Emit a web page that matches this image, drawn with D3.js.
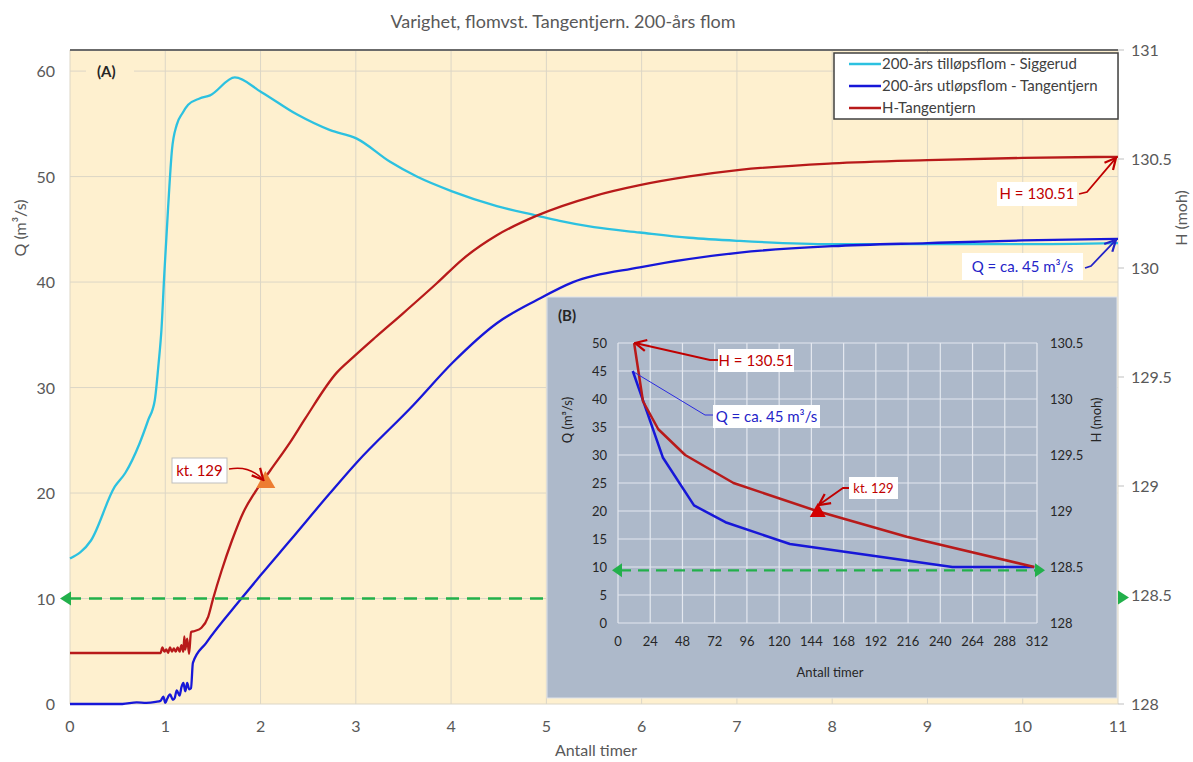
<!DOCTYPE html>
<html>
<head>
<meta charset="utf-8">
<script src="https://cdn.jsdelivr.net/npm/d3@7"></script>
<style>
  body { margin: 0; background: #ffffff; }
  text { font-family: Lato, "Noto Sans", "Liberation Sans", sans-serif; }
</style>
</head>
<body>
<svg id="chart" width="1193" height="762"></svg>
<script>
// ---- Main chart (A): time in hours ----
const inflowT = [0, 0.22, 0.47, 0.58, 0.73, 0.82, 0.89, 0.93, 0.96, 0.99, 1.03, 1.07, 1.12, 1.18, 1.24, 1.36, 1.47, 1.73, 2.01, 2.38, 2.73, 3.01, 3.36, 3.64, 4.01, 4.48, 4.9, 5.14, 5.5, 5.98, 6.5, 7.03, 8.0, 9.0, 10.0, 11.0];
const inflowQ = [13.8, 15.5, 20.6, 21.9, 24.7, 26.9, 28.8, 32.3, 35.5, 40.8, 47.1, 52.5, 54.9, 56.0, 56.8, 57.4, 57.7, 59.4, 58.0, 55.9, 54.4, 53.6, 51.4, 50.0, 48.6, 47.2, 46.3, 45.8, 45.2, 44.7, 44.2, 43.9, 43.6, 43.6, 43.6, 43.7];

const outflowT = [0, 0.55, 0.7, 0.8, 0.9, 0.95, 0.98, 1.0, 1.02, 1.05, 1.08, 1.1, 1.12, 1.15, 1.17, 1.19, 1.21, 1.23, 1.25, 1.27, 1.29, 1.43, 1.79, 2.0, 2.31, 2.73, 3.01, 3.6, 4.02, 4.48, 4.9, 5.28, 5.98, 7.03, 8.0, 9.0, 10.0, 11.0];
const outflowQ = [0, 0, 0.15, 0.1, 0.2, 0.3, 0.7, 0.1, 0.5, 0.9, 0.4, 0.6, 1.3, 0.8, 1.6, 2.0, 1.2, 2.0, 1.4, 1.5, 3.9, 5.8, 9.9, 12.2, 15.5, 20.0, 22.9, 28.3, 32.4, 36.1, 38.3, 40.0, 41.4, 42.8, 43.4, 43.7, 43.95, 44.1];

const levelT = [0, 0.5, 0.95, 0.97, 0.99, 1.01, 1.03, 1.05, 1.07, 1.09, 1.11, 1.13, 1.15, 1.17, 1.19, 1.2, 1.21, 1.23, 1.25, 1.27, 1.31, 1.38, 1.45, 1.5, 1.59, 1.7, 1.82, 1.94, 2.1, 2.31, 2.47, 2.8, 2.97, 3.2, 3.49, 3.85, 4.12, 4.48, 4.9, 5.5, 5.98, 6.5, 7.03, 8.0, 9.0, 10.0, 11.0];
const levelH = [128.234, 128.234, 128.234, 128.26, 128.24, 128.25, 128.235, 128.26, 128.24, 128.255, 128.24, 128.26, 128.24, 128.27, 128.24, 128.31, 128.25, 128.3, 128.23, 128.33, 128.335, 128.35, 128.40, 128.48, 128.61, 128.75, 128.88, 128.97, 129.07, 129.2, 129.31, 129.52, 129.59, 129.68, 129.79, 129.93, 130.04, 130.15, 130.24, 130.33, 130.38, 130.42, 130.45, 130.48, 130.495, 130.505, 130.51];

const xTicksA = [0, 1, 2, 3, 4, 5, 6, 7, 8, 9, 10, 11];
const qTicksA = [0, 10, 20, 30, 40, 50, 60];
const hTicksA = [128, 128.5, 129, 129.5, 130, 130.5, 131];
const thresholdQ = 10;          // kt. 128.5
const kt129A = { t: 2.05, h: 129.0 };
const endLevel = 130.51;
const endOutflow = 44.1;

// ---- Inset chart (B): hours ----
const insetOutHrs = [11, 33.5, 56.6, 80, 128, 249, 310];
const insetOutQ   = [45, 29.5, 21, 18, 14.1, 10, 10];
const insetLvlHrs = [12, 18.6, 30, 50, 86, 148, 215, 310];
const insetLvlH   = [130.5, 129.98, 129.73, 129.5, 129.25, 129.0, 128.77, 128.5];
const xTicksB = [0, 24, 48, 72, 96, 120, 144, 168, 192, 216, 240, 264, 288, 312];
const qTicksB = [0, 5, 10, 15, 20, 25, 30, 35, 40, 45, 50];
const hTicksB = [128, 128.5, 129, 129.5, 130, 130.5];
const thresholdQB = 9.4;
const kt129B = { hrs: 148, h: 129.0 };

const legendNames = ["200-års tilløpsflom - Siggerud", "200-års utløpsflom - Tangentjern", "H-Tangentjern"];

// ---- Colours ----
const cCyan = "#2cc1e0", cBlue = "#1717d8", cRed = "#b81a1a", cGreen = "#22b04b";
const cText = "#595959", cAnnRed = "#c00000", cAnnBlue = "#2424c8";

const svg = d3.select("#chart");

// ---- Title ----
svg.append("text").attr("x", 563).attr("y", 28).attr("text-anchor", "middle")
  .attr("font-size", 18).attr("fill", cText)
  .text("Varighet, flomvst. Tangentjern. 200-års flom");

// ---- Scales (A) ----
const L = 70, R = 1118, T = 50, B = 704;
const x = d3.scaleLinear([0, 11], [L, R]);
const yQ = d3.scaleLinear([0, 62], [B, T]);
const yH = d3.scaleLinear([128, 131], [B, T]);

// Arrow markers
const defs = svg.append("defs");
function marker(id, col, size) {
  defs.append("marker").attr("id", id).attr("viewBox", "0 0 10 10")
    .attr("refX", 9).attr("refY", 5).attr("markerWidth", size).attr("markerHeight", size)
    .attr("markerUnits", "userSpaceOnUse").attr("orient", "auto")
    .append("path").attr("d", "M1,1 L9,5 L1,9").attr("fill", "none")
    .attr("stroke", col).attr("stroke-width", 1.6).attr("stroke-linejoin", "miter");
}
marker("arRed", cAnnRed, 14);
marker("arBlue", cAnnBlue, 14);

// Plot background
svg.append("rect").attr("x", L).attr("y", T).attr("width", R - L).attr("height", B - T)
  .attr("fill", "#fef0cf");

// Gridlines
const grid = svg.append("g").attr("stroke", "#dcd6c6").attr("stroke-width", 1);
grid.selectAll("line.v").data(xTicksA).join("line")
  .attr("x1", d => x(d)).attr("x2", d => x(d)).attr("y1", T).attr("y2", B);
grid.selectAll("line.h").data(qTicksA).join("line")
  .attr("x1", L).attr("x2", R).attr("y1", d => yQ(d)).attr("y2", d => yQ(d));

// Top frame line
svg.append("line").attr("x1", L).attr("x2", R).attr("y1", T).attr("y2", T)
  .attr("stroke", "#6b6b6b").attr("stroke-width", 2);

// Axis labels (A)
const axA = svg.append("g").attr("font-size", 16).attr("fill", cText);
axA.selectAll("text.x").data(xTicksA).join("text")
  .attr("x", d => x(d)).attr("y", 732).attr("text-anchor", "middle").text(d => d);
axA.selectAll("text.q").data(qTicksA).join("text")
  .attr("x", 55).attr("y", d => yQ(d) + 6).attr("text-anchor", "end").text(d => d);
axA.selectAll("text.h").data(hTicksA).join("text")
  .attr("x", 1131).attr("y", d => yH(d) + 6).attr("text-anchor", "start").text(d => d);
svg.append("g").attr("stroke", "#bfbfbf").selectAll("line").data(hTicksA).join("line")
  .attr("x1", R).attr("x2", R + 6).attr("y1", d => yH(d)).attr("y2", d => yH(d));

svg.append("text").attr("x", 596).attr("y", 756).attr("text-anchor", "middle")
  .attr("font-size", 16).attr("fill", cText).text("Antall timer");
svg.append("text").attr("transform", "translate(26,228) rotate(-90)").attr("text-anchor", "middle")
  .attr("font-size", 16).attr("fill", cText).text("Q (m³/s)");
svg.append("text").attr("transform", "translate(1187,218) rotate(-90)").attr("text-anchor", "middle")
  .attr("font-size", 16).attr("fill", cText).text("H (moh)");

// (A) label
svg.append("rect").attr("x", 86).attr("y", 62).attr("width", 48).attr("height", 20).attr("fill", "#fef0cf");
svg.append("text").attr("x", 97).attr("y", 77).attr("font-size", 15).attr("font-weight", "bold")
  .attr("fill", "#262626").text("(A)");

// Series (A)
const lineQ = d3.line().x(d => x(d[0])).y(d => yQ(d[1])).curve(d3.curveMonotoneX);
const lineH = d3.line().x(d => x(d[0])).y(d => yH(d[1])).curve(d3.curveMonotoneX);
svg.append("path").attr("d", lineQ(d3.zip(inflowT, inflowQ)))
  .attr("fill", "none").attr("stroke", cCyan).attr("stroke-width", 2.3);
svg.append("path").attr("d", lineQ(d3.zip(outflowT, outflowQ)))
  .attr("fill", "none").attr("stroke", cBlue).attr("stroke-width", 2.3);
svg.append("path").attr("d", lineH(d3.zip(levelT, levelH)))
  .attr("fill", "none").attr("stroke", cRed).attr("stroke-width", 2.3);

// Threshold line (A)
const yThr = yQ(thresholdQ);
svg.append("line").attr("x1", L - 2).attr("x2", R + 2).attr("y1", yThr).attr("y2", yThr)
  .attr("stroke", cGreen).attr("stroke-width", 2.3).attr("stroke-dasharray", "13,8");
svg.append("path").attr("d", `M${L - 10},${yThr} L${L + 1},${yThr - 7} L${L + 1},${yThr + 7} Z`).attr("fill", cGreen);
svg.append("path").attr("d", `M${R + 11},${yThr - 1} L${R},${yThr - 8} L${R},${yThr + 6} Z`).attr("fill", cGreen);

// kt. 129 marker (A)
const kx = x(kt129A.t), ky = yH(kt129A.h);
svg.append("path").attr("d", `M${kx},${ky - 15} L${kx + 10},${ky + 2} L${kx - 9},${ky + 2} Z`).attr("fill", "#ed7d31");
svg.append("rect").attr("x", 172).attr("y", 458).attr("width", 55).attr("height", 25)
  .attr("fill", "#ffffff").attr("stroke", "#bfbfbf");
svg.append("text").attr("x", 199.5).attr("y", 476).attr("text-anchor", "middle")
  .attr("font-size", 15).attr("fill", cAnnRed).text("kt. 129");
svg.append("path").attr("d", `M229,469 Q250,465 ${kx - 2},${ky - 6}`)
  .attr("fill", "none").attr("stroke", cAnnRed).attr("stroke-width", 1.5).attr("marker-end", "url(#arRed)");

// End-value callouts (A)
const exH = x(11), eyH = yH(endLevel);
svg.append("rect").attr("x", 997).attr("y", 182).attr("width", 80).attr("height", 24).attr("fill", "#ffffff");
svg.append("text").attr("x", 1037).attr("y", 199).attr("text-anchor", "middle")
  .attr("font-size", 15).attr("fill", cAnnRed).text("H = " + endLevel);
svg.append("path").attr("d", `M1079,194 L1087,192 L${exH - 2},${eyH + 1}`)
  .attr("fill", "none").attr("stroke", cAnnRed).attr("stroke-width", 1.8).attr("marker-end", "url(#arRed)");

const eyQ = yQ(endOutflow);
svg.append("rect").attr("x", 962).attr("y", 253).attr("width", 121).attr("height", 27).attr("fill", "#ffffff");
svg.append("text").attr("x", 1022.5).attr("y", 272).attr("text-anchor", "middle")
  .attr("font-size", 15).attr("fill", cAnnBlue).text("Q = ca. 45 m³/s");
svg.append("path").attr("d", `M1085,268 L1091,266 L${exH - 2},${eyQ + 1}`)
  .attr("fill", "none").attr("stroke", cAnnBlue).attr("stroke-width", 1.8).attr("marker-end", "url(#arBlue)");

// ---- Inset (B) ----
svg.append("rect").attr("x", 547).attr("y", 297).attr("width", 570).attr("height", 401)
  .attr("fill", "#adb9ca").attr("stroke", "#dfe3ea").attr("stroke-width", 1);

const xi = d3.scaleLinear([0, 312], [618, 1037]);
const yiQ = d3.scaleLinear([0, 50], [623, 343]);
const yiH = d3.scaleLinear([128, 130.5], [623, 343]);

const gridB = svg.append("g").attr("stroke", "#e4e8ef").attr("stroke-width", 1.2);
gridB.selectAll("line.v").data(xTicksB).join("line")
  .attr("x1", d => xi(d)).attr("x2", d => xi(d)).attr("y1", yiQ(50)).attr("y2", yiQ(0));
gridB.selectAll("line.h").data(qTicksB).join("line")
  .attr("x1", xi(0)).attr("x2", xi(312)).attr("y1", d => yiQ(d)).attr("y2", d => yiQ(d));

const axB = svg.append("g").attr("font-size", 13).attr("fill", "#262626");
axB.selectAll("text.x").data(xTicksB).join("text")
  .attr("x", d => xi(d)).attr("y", 646).attr("text-anchor", "middle").text(d => d);
axB.selectAll("text.q").data(qTicksB).join("text")
  .attr("x", 607).attr("y", d => yiQ(d) + 5).attr("text-anchor", "end").text(d => d);
axB.selectAll("text.h").data(hTicksB).join("text")
  .attr("x", 1050).attr("y", d => yiH(d) + 5).attr("text-anchor", "start").text(d => d);

svg.append("text").attr("x", 830).attr("y", 677).attr("text-anchor", "middle")
  .attr("font-size", 13).attr("fill", "#262626").text("Antall timer");
svg.append("text").attr("transform", "translate(572,420) rotate(-90)").attr("text-anchor", "middle")
  .attr("font-size", 13).attr("fill", "#262626").text("Q (m³/s)");
svg.append("text").attr("transform", "translate(1101,420) rotate(-90)").attr("text-anchor", "middle")
  .attr("font-size", 13).attr("fill", "#262626").text("H (moh)");
svg.append("text").attr("x", 558).attr("y", 321).attr("font-size", 15).attr("font-weight", "bold")
  .attr("fill", "#262626").text("(B)");

// Threshold line (B)
const yThrB = yiQ(thresholdQB);
svg.append("line").attr("x1", xi(0) + 2).attr("x2", xi(312) - 2).attr("y1", yThrB).attr("y2", yThrB)
  .attr("stroke", cGreen).attr("stroke-width", 2.2).attr("stroke-dasharray", "11,7");
svg.append("path").attr("d", `M${xi(0) - 6},${yThrB} L${xi(0) + 4},${yThrB - 7} L${xi(0) + 4},${yThrB + 7} Z`).attr("fill", cGreen);
svg.append("path").attr("d", `M${xi(312) + 8},${yThrB} L${xi(312) - 2},${yThrB - 7} L${xi(312) - 2},${yThrB + 7} Z`).attr("fill", cGreen);

const lineBQ = d3.line().x(d => xi(d[0])).y(d => yiQ(d[1]));
const lineBH = d3.line().x(d => xi(d[0])).y(d => yiH(d[1]));
svg.append("path").attr("d", lineBQ(d3.zip(insetOutHrs, insetOutQ)))
  .attr("fill", "none").attr("stroke", cBlue).attr("stroke-width", 2.5).attr("stroke-linejoin", "round");
svg.append("path").attr("d", lineBH(d3.zip(insetLvlHrs, insetLvlH)))
  .attr("fill", "none").attr("stroke", cRed).attr("stroke-width", 2.5).attr("stroke-linejoin", "round");

// kt. 129 marker (B)
const bx = xi(kt129B.hrs), by = yiH(kt129B.h);
svg.append("path").attr("d", `M${bx + 1},${by - 8} L${bx + 9},${by + 6} L${bx - 7},${by + 6} Z`).attr("fill", "#d40000");
svg.append("rect").attr("x", 849).attr("y", 477).attr("width", 49).attr("height", 22).attr("fill", "#ffffff");
svg.append("text").attr("x", 873.5).attr("y", 493).attr("text-anchor", "middle")
  .attr("font-size", 13).attr("fill", cAnnRed).text("kt. 129");
svg.append("path").attr("d", `M849,488 L843,488 L${bx + 2},${by - 6}`)
  .attr("fill", "none").attr("stroke", cAnnRed).attr("stroke-width", 1.8).attr("marker-end", "url(#arRed)");

// Start-value callouts (B)
const sxH = xi(insetLvlHrs[0]), syH = yiH(insetLvlH[0]);
svg.append("rect").attr("x", 718).attr("y", 349).attr("width", 76).attr("height", 23).attr("fill", "#ffffff");
svg.append("text").attr("x", 756).attr("y", 366).attr("text-anchor", "middle")
  .attr("font-size", 15).attr("fill", cAnnRed).text("H = " + endLevel);
svg.append("path").attr("d", `M718,360 L710,360 L${sxH + 1},${syH}`)
  .attr("fill", "none").attr("stroke", cAnnRed).attr("stroke-width", 1.8).attr("marker-end", "url(#arRed)");

const sxQ = xi(insetOutHrs[0]), syQ = yiQ(insetOutQ[0]);
svg.append("rect").attr("x", 713).attr("y", 405).attr("width", 107).attr("height", 23).attr("fill", "#ffffff");
svg.append("text").attr("x", 766.5).attr("y", 422).attr("text-anchor", "middle")
  .attr("font-size", 15).attr("fill", cAnnBlue).text("Q = ca. 45 m³/s");
svg.append("path").attr("d", `M713,415 L705,415 L${sxQ + 1},${syQ + 1}`)
  .attr("fill", "none").attr("stroke", "#2a2ae0").attr("stroke-width", 1);

// ---- Legend ----
const lg = svg.append("g");
lg.append("rect").attr("x", 834).attr("y", 53).attr("width", 284).attr("height", 66)
  .attr("fill", "#ffffff").attr("stroke", "#404040").attr("stroke-width", 1.5);
const legCols = [cCyan, cBlue, cRed];
legendNames.forEach((n, i) => {
  const yy = 64 + i * 22;
  lg.append("line").attr("x1", 849).attr("x2", 881).attr("y1", yy).attr("y2", yy)
    .attr("stroke", legCols[i]).attr("stroke-width", 2.5);
  lg.append("text").attr("x", 882).attr("y", yy + 5).attr("font-size", 15).attr("fill", "#404040").text(n);
});
</script>
</body>
</html>
